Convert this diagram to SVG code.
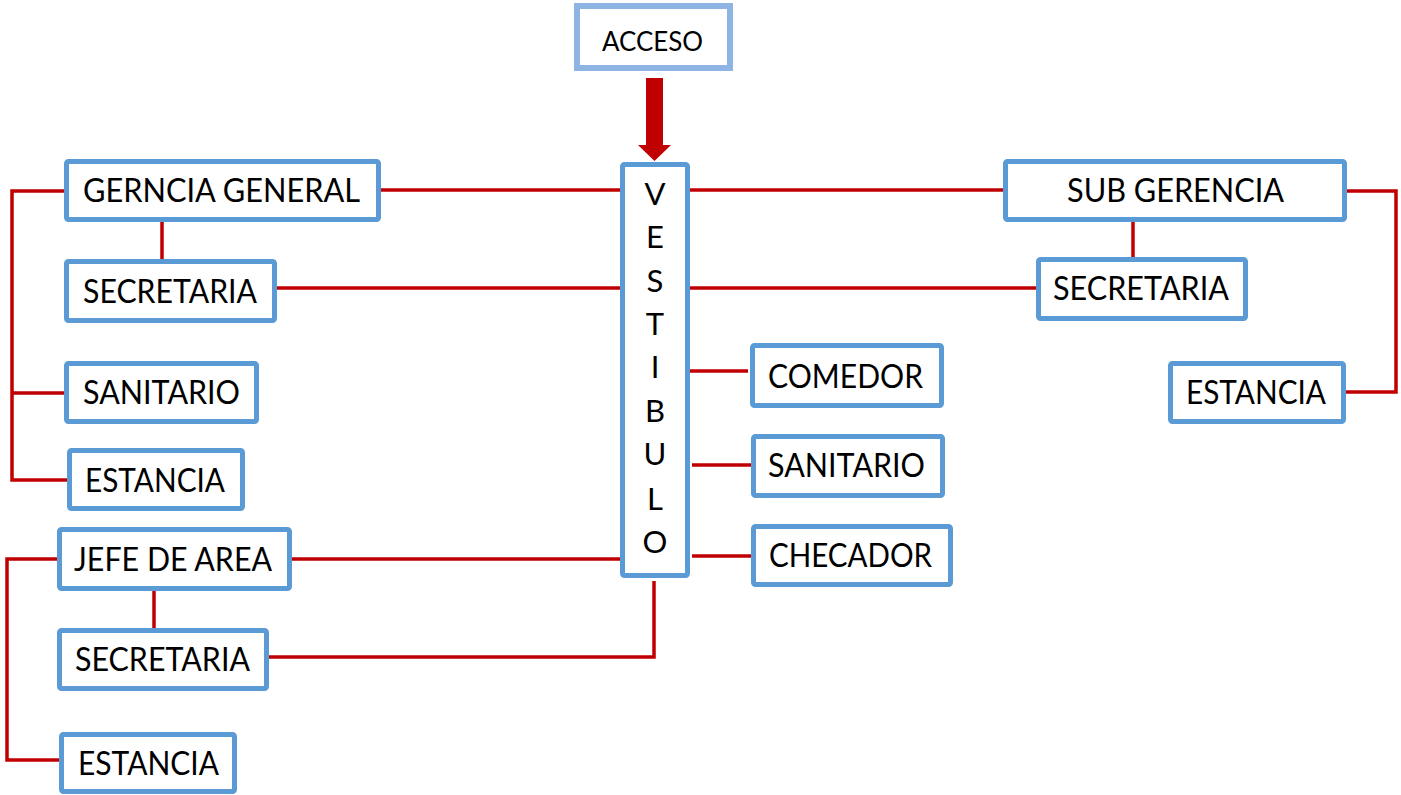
<svg xmlns="http://www.w3.org/2000/svg" width="1401" height="795" viewBox="0 0 1401 795">
<style>
.box{fill:#fff;stroke:#5B9BD5;stroke-width:5}
.acc{fill:#fff;stroke:#8DB4E2;stroke-width:6}
.lbl{font-family:Lato,"Open Sans","Liberation Sans",sans-serif;font-size:32px;fill:#000}
.vl{font-family:Lato,"Open Sans","Liberation Sans",sans-serif;font-size:31px;fill:#000;text-anchor:middle}
.con{fill:none;stroke:#C00000;stroke-width:3.5}
</style>
<rect width="1401" height="795" fill="#fff"/>
<g id="connectors">
<path class="con" d="M381 190 H622"/>
<path class="con" d="M277 288 H624"/>
<path class="con" d="M162 222 V259"/>
<path class="con" d="M66 191 H12 V480 H69 M12 393 H64"/>
<path class="con" d="M292 559 H622"/>
<path class="con" d="M57 559 H7 V760 H59"/>
<path class="con" d="M154 591 V628"/>
<path class="con" d="M269 657 H654 V581"/>
<path class="con" d="M688 190 H1003"/>
<path class="con" d="M690 288 H1036"/>
<path class="con" d="M1133 222 V257"/>
<path class="con" d="M1347 191 H1396 V392 H1346"/>
<path class="con" d="M690 371 H748"/>
<path class="con" d="M692 465 H751"/>
<path class="con" d="M692 556 H751"/>
<polygon id="arrow" points="646,78 663,78 663,145 671,145 654.5,161 638,145 646,145" fill="#C00000"/>
</g>
<g id="acceso"><rect class="acc" x="577" y="6" width="153" height="62"/><text class="lbl" x="602" y="51" font-size="26" textLength="101" lengthAdjust="spacingAndGlyphs" style="font-size:26px">ACCESO</text></g>
<g id="vestibulo"><rect class="box" x="622.5" y="164.5" width="65" height="411" rx="2"/>
<text class="vl" x="655" y="205">V</text><text class="vl" x="655" y="248">E</text><text class="vl" x="655" y="292">S</text><text class="vl" x="655" y="335">T</text><text class="vl" x="655" y="378">I</text><text class="vl" x="655" y="422">B</text><text class="vl" x="655" y="465">U</text><text class="vl" x="655" y="510">L</text><text class="vl" x="655" y="553">O</text></g>
<g id="gerencia-general"><rect class="box" x="66.5" y="161.5" width="312" height="58" rx="2"/><text class="lbl" x="83" y="202" textLength="277" lengthAdjust="spacingAndGlyphs">GERNCIA GENERAL</text></g>
<g id="secretaria-gg"><rect class="box" x="66.5" y="261.5" width="208" height="59" rx="2"/><text class="lbl" x="83" y="303" textLength="174" lengthAdjust="spacingAndGlyphs">SECRETARIA</text></g>
<g id="sanitario-gg"><rect class="box" x="66.5" y="363.5" width="190" height="58" rx="2"/><text class="lbl" x="83" y="404" textLength="157" lengthAdjust="spacingAndGlyphs">SANITARIO</text></g>
<g id="estancia-gg"><rect class="box" x="69.5" y="450.5" width="173" height="58" rx="2"/><text class="lbl" x="85" y="492" textLength="140" lengthAdjust="spacingAndGlyphs">ESTANCIA</text></g>
<g id="jefe-area"><rect class="box" x="59.5" y="529.5" width="230" height="59" rx="2"/><text class="lbl" x="74" y="571" textLength="198" lengthAdjust="spacingAndGlyphs">JEFE DE AREA</text></g>
<g id="secretaria-ja"><rect class="box" x="59.5" y="630.5" width="207" height="58" rx="2"/><text class="lbl" x="75" y="671" textLength="175" lengthAdjust="spacingAndGlyphs">SECRETARIA</text></g>
<g id="estancia-ja"><rect class="box" x="61.5" y="734.5" width="173" height="57" rx="2"/><text class="lbl" x="78" y="775" textLength="141" lengthAdjust="spacingAndGlyphs">ESTANCIA</text></g>
<g id="sub-gerencia"><rect class="box" x="1005.5" y="161.5" width="339" height="58" rx="2"/><text class="lbl" x="1067" y="202" textLength="217" lengthAdjust="spacingAndGlyphs">SUB GERENCIA</text></g>
<g id="secretaria-sg"><rect class="box" x="1038.5" y="259.5" width="207" height="59" rx="2"/><text class="lbl" x="1053" y="300" textLength="176" lengthAdjust="spacingAndGlyphs">SECRETARIA</text></g>
<g id="estancia-sg"><rect class="box" x="1170.5" y="363.5" width="173" height="58" rx="2"/><text class="lbl" x="1186" y="404" textLength="140" lengthAdjust="spacingAndGlyphs">ESTANCIA</text></g>
<g id="comedor"><rect class="box" x="752.5" y="345.5" width="189" height="60" rx="2"/><text class="lbl" x="768" y="388" textLength="155" lengthAdjust="spacingAndGlyphs">COMEDOR</text></g>
<g id="sanitario-v"><rect class="box" x="753.5" y="436.5" width="189" height="59" rx="2"/><text class="lbl" x="768" y="477" textLength="157" lengthAdjust="spacingAndGlyphs">SANITARIO</text></g>
<g id="checador"><rect class="box" x="753.5" y="526.5" width="197" height="58" rx="2"/><text class="lbl" x="769" y="567" textLength="163" lengthAdjust="spacingAndGlyphs">CHECADOR</text></g>
</svg>
